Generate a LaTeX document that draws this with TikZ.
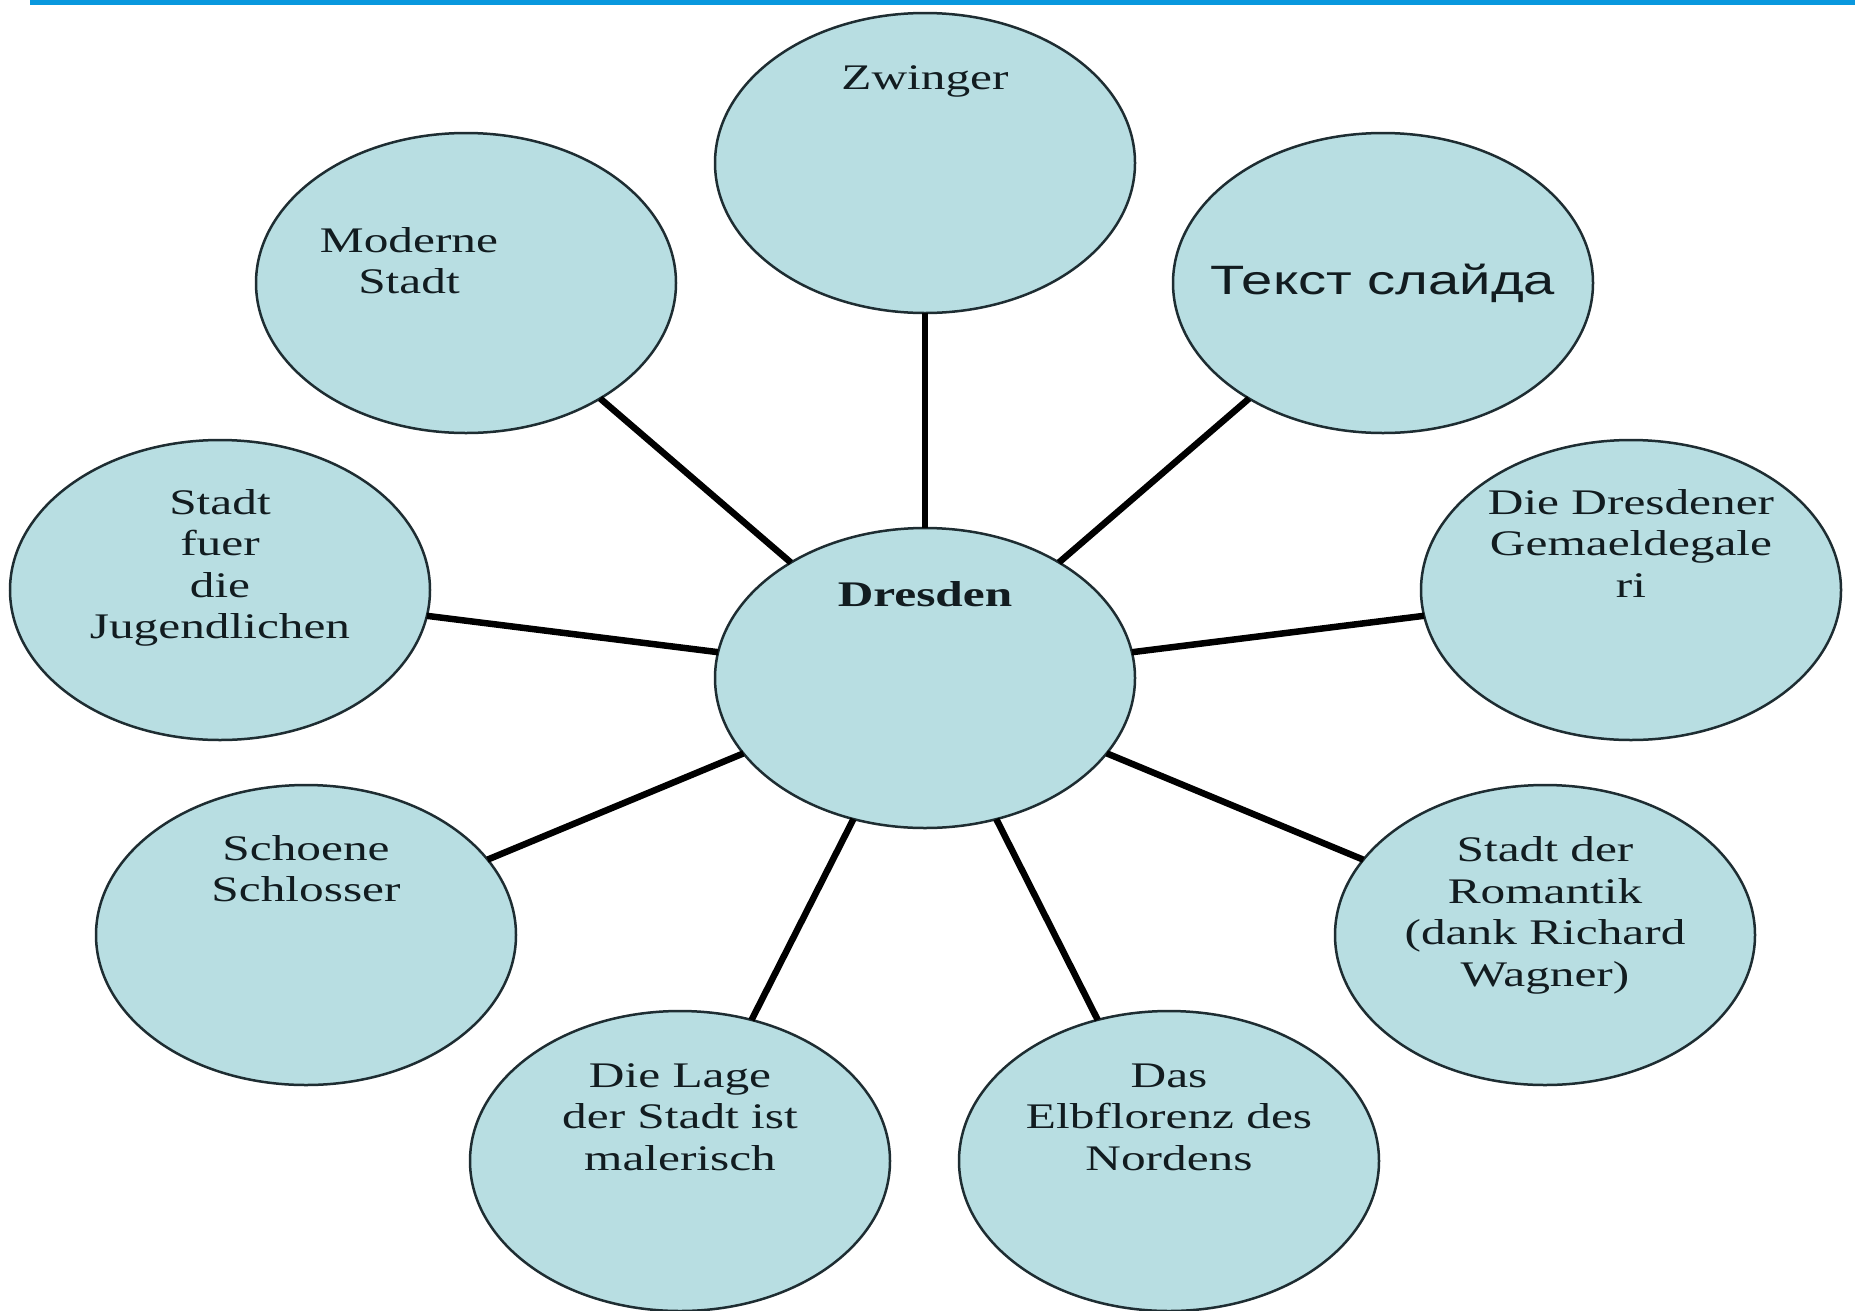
\documentclass[tikz,border=0pt]{standalone}
\usepackage{fontspec}
\setmainfont[FakeStretch=1.37]{Liberation Serif}
\newfontfamily\rufont[FakeStretch=1.37]{Liberation Sans}
\usetikzlibrary{shapes.geometric}
\definecolor{bubfill}{RGB}{184,222,226}
\definecolor{bubline}{RGB}{30,45,50}
\definecolor{txtc}{RGB}{18,28,32}
\definecolor{barblue}{RGB}{9,152,222}
% #1 horizontal shift, #2 raise of first baseline, #3 lines
\newcommand{\bubtext}[3]{\smash{\makebox[0pt]{\hspace*{#1}\hspace*{#1}\raisebox{#2}{\begin{tabular}[t]{@{}c@{}}#3\end{tabular}}}}}
\tikzset{
  bub/.style={ellipse, draw=bubline, line width=2.5pt, fill=bubfill,
    minimum width=420pt, minimum height=300pt, inner sep=0pt, outer sep=0pt,
    text=txtc, font=\fontsize{36}{41.5}\selectfont},
  conn/.style={draw=black, line width=6.5pt},
  bar/.style={fill=barblue, draw=none}
}
\begin{document}
\begin{tikzpicture}[x=1pt, y=-1pt]
\useasboundingbox (0,0) rectangle (1858,1310);
\fill[white] (0,0) rectangle (1858,1310);
\path[bar] (30,0) rectangle (1855,4.5);

\node[bub] (zw)  at (925,163)  {\bubtext{0pt}{73.5pt}{Zwinger}};
\node[bub] (mod) at (466,283)  {\bubtext{-57pt}{31pt}{Moderne\\Stadt}};
\node[bub] (txt) at (1383,283) {\bubtext{0pt}{-11pt}{\rufont\fontsize{41}{48}\selectfont Текст слайда}};
\node[bub] (jug) at (220,590)  {\bubtext{0pt}{76pt}{Stadt\\fuer\\die\\Jugendlichen}};
\node[bub] (gal) at (1631,590) {\bubtext{0pt}{76pt}{Die Dresdener\\Gemaeldegale\\ri}};
\node[bub] (dre) at (925,678)  {\bubtext{0pt}{72pt}{\bfseries Dresden}};
\node[bub] (sch) at (306,935)  {\bubtext{0pt}{75pt}{Schoene\\Schlosser}};
\node[bub] (rom) at (1545,935) {\bubtext{0pt}{73.5pt}{Stadt der\\Romantik\\(dank Richard\\Wagner)}};
\node[bub] (lag) at (680,1161) {\bubtext{0pt}{74pt}{Die Lage\\der Stadt ist\\malerisch}};
\node[bub] (elb) at (1169,1161){\bubtext{0pt}{74pt}{Das\\Elbflorenz des\\Nordens}};

\foreach \n in {zw,mod,txt,jug,gal,sch,rom,lag,elb}
  \draw[conn] (dre) -- (\n);
\end{tikzpicture}
\end{document}
